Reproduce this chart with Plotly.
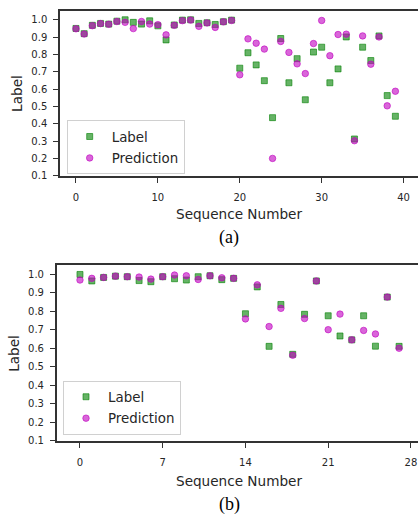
import plotly.graph_objects as go

# ---------------- data ----------------
seq_a = list(range(40))
label_a = [0.950, 0.920, 0.968, 0.979, 0.975, 0.992, 1.000, 0.985, 0.975, 0.994,
           0.965, 0.884, 0.970, 0.998, 1.000, 0.979, 0.983, 0.973, 0.989, 0.998,
           0.721, 0.810, 0.740, 0.649, 0.436, 0.892, 0.637, 0.776, 0.539, 0.814,
           0.842, 0.637, 0.717, 0.901, 0.313, 0.842, 0.765, 0.907, 0.563, 0.444]
pred_a = [0.948, 0.918, 0.966, 0.978, 0.974, 0.990, 0.985, 0.949, 0.990, 0.975,
          0.972, 0.913, 0.968, 0.995, 0.998, 0.962, 0.982, 0.956, 0.988, 0.996,
          0.683, 0.890, 0.865, 0.831, 0.201, 0.875, 0.812, 0.746, 0.690, 0.863,
          0.996, 0.793, 0.915, 0.917, 0.303, 0.907, 0.744, 0.901, 0.504, 0.588]

seq_b = list(range(28))
label_b = [0.998, 0.963, 0.982, 0.989, 0.986, 0.965, 0.959, 0.986, 0.975, 0.968,
           0.986, 0.991, 0.970, 0.977, 0.786, 0.931, 0.610, 0.836, 0.567, 0.783,
           0.963, 0.775, 0.666, 0.645, 0.775, 0.611, 0.876, 0.610]
pred_b = [0.968, 0.977, 0.982, 0.989, 0.986, 0.984, 0.973, 0.986, 0.995, 0.991,
          0.971, 0.991, 0.980, 0.977, 0.758, 0.942, 0.717, 0.815, 0.562, 0.760,
          0.963, 0.700, 0.784, 0.645, 0.696, 0.677, 0.876, 0.600]

x_ticks_a = [0, 10, 20, 30, 40]
x_ticks_b = [0, 7, 14, 21, 28]
y_ticks = [0.1, 0.2, 0.3, 0.4, 0.5, 0.6, 0.7, 0.8, 0.9, 1.0]

# ---------------- styling ----------------
W, H = 418, 519
GREEN = "rgba(0,128,0,0.6)"
MAGENTA = "rgba(191,0,191,0.6)"
TXT = "#262626"
FONT = "DejaVu Sans"


def px(x):
    return x / W


def py(y):
    return 1 - y / H


fig = go.Figure()

for seq, lab, pred, xa, ya, leg in [
    (seq_a, label_a, pred_a, "x", "y", "legend"),
    (seq_b, label_b, pred_b, "x2", "y2", "legend2"),
]:
    fig.add_trace(go.Scatter(
        x=seq, y=lab, mode="markers", name="Label", xaxis=xa, yaxis=ya,
        legend=leg, legendgroup=leg + "l",
        marker=dict(symbol="square", size=6, color=GREEN,
                    line=dict(color=GREEN, width=1)),
    ))
    fig.add_trace(go.Scatter(
        x=seq, y=pred, mode="markers", name="Prediction", xaxis=xa, yaxis=ya,
        legend=leg, legendgroup=leg + "p",
        marker=dict(symbol="circle", size=6.5, color=MAGENTA,
                    line=dict(color=MAGENTA, width=1)),
    ))

axis_common = dict(
    showgrid=False, zeroline=False, showline=True, linecolor="#333333",
    linewidth=1.5, ticks="outside", ticklen=5, tickwidth=1.2,
    tickcolor="#333333", tickfont=dict(family=FONT, size=10, color=TXT),
)

legend_common = dict(
    xanchor="left", yanchor="top", bgcolor="white", bordercolor="#d0d0d0",
    borderwidth=1, font=dict(family=FONT, size=13.4, color=TXT),
    traceorder="grouped", tracegroupgap=1, itemwidth=34,
)

fig.update_layout(
    width=W, height=H,
    margin=dict(l=0, r=0, t=0, b=0),
    paper_bgcolor="white", plot_bgcolor="white",
    showlegend=True,
    xaxis=dict(domain=[px(60), 1], range=[-1.95, 41.76], tickvals=x_ticks_a,
               mirror=True, anchor="y", ticklabelstandoff=6, **axis_common),
    yaxis=dict(domain=[py(178), py(11)], range=[0.1, 1.0513], tickvals=y_ticks,
               tickformat=".1f", anchor="x", ticklabelstandoff=4, **axis_common),
    xaxis2=dict(domain=[px(56.7), 1], range=[-1.97, 28.6], tickvals=x_ticks_b,
                mirror=True, anchor="y2", ticklabelstandoff=6, **axis_common),
    yaxis2=dict(domain=[py(446), py(268.3)], range=[0.1, 1.048], tickvals=y_ticks,
                tickformat=".1f", anchor="x2", ticklabelstandoff=4, **axis_common),
    legend=dict(x=px(66.7), y=py(121.7), **legend_common),
    legend2=dict(x=px(63), y=py(385), **legend_common),
)

annotations = [
    dict(text="Label", x=px(17), y=py(95), textangle=-90,
         font=dict(family=FONT, size=13.6, color=TXT)),
    dict(text="Label", x=px(14), y=py(358), textangle=-90,
         font=dict(family=FONT, size=13.6, color=TXT)),
    dict(text="Sequence Number", x=px(239), y=py(216),
         font=dict(family=FONT, size=13.6, color=TXT)),
    dict(text="Sequence Number", x=px(238.5), y=py(486.7),
         font=dict(family=FONT, size=13.6, color=TXT)),
    dict(text="(a)", x=px(229), y=py(240),
         font=dict(family="Liberation Serif", size=18, color="black")),
    dict(text="(b)", x=px(229), y=py(510),
         font=dict(family="Liberation Serif", size=18, color="black")),
]
for a in annotations:
    a.update(xref="paper", yref="paper", xanchor="center", yanchor="middle",
             showarrow=False)
fig.update_layout(annotations=annotations)

fig.write_html("out.html")
